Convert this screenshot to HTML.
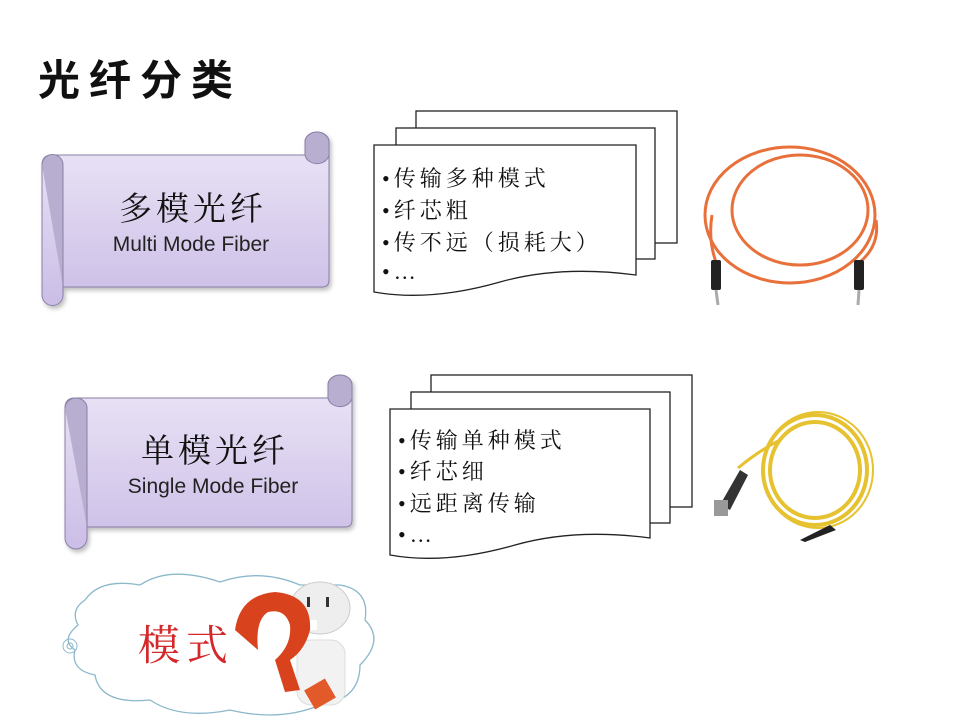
<!DOCTYPE html>
<html><head><meta charset="utf-8"><style>
html,body{margin:0;padding:0;background:#fff;}
svg{display:block}
.cj{font-family:"Liberation Serif","Noto Serif CJK SC",serif;}
</style></head><body>
<svg width="960" height="720" viewBox="0 0 960 720" xmlns="http://www.w3.org/2000/svg">
<defs>
<linearGradient id="pg" x1="0" y1="0" x2="0" y2="1">
<stop offset="0" stop-color="#ece6f7"/><stop offset="1" stop-color="#cbbde6"/>
</linearGradient>
<filter id="sh" x="-10%" y="-10%" width="130%" height="130%"><feDropShadow dx="2" dy="3" stdDeviation="2" flood-color="#000" flood-opacity="0.25"/></filter>
</defs>
<text x="38" y="95" font-size="42" font-weight="bold" letter-spacing="9" font-family="Liberation Sans,'Noto Sans CJK SC',sans-serif" fill="#111">光纤分类</text>

<!-- scroll 1 -->
<g filter="url(#sh)" stroke="#8a80a8" stroke-width="1">
<path d="M305 155 L305 142 A12 10 0 0 1 329 142 L329 280 Q329 287 322 287 L63 287 L63 295 A10 10 0 0 1 42 295 L42 165 Q42 155 52 155 Z" fill="url(#pg)"/>
<path d="M42 165 A10 10 0 0 1 63 165 L63 287" fill="#b8aed0"/>
<path d="M305 155 A12 10 0 0 0 329 152 L329 142 A12 10 0 0 0 305 142 Z" fill="#b8aed0"/>
</g>
<text x="193" y="220" text-anchor="middle" font-size="33" letter-spacing="4" class="cj" fill="#111">多模光纤</text>
<text x="191" y="251" text-anchor="middle" font-size="21" font-family="Liberation Sans,sans-serif" fill="#222">Multi Mode Fiber</text>

<!-- scroll 2 -->
<g filter="url(#sh)" stroke="#8a80a8" stroke-width="1">
<path d="M328 398 L328 385 A12 10 0 0 1 352 385 L352 520 Q352 527 345 527 L87 527 L87 538 A10 10 0 0 1 65 538 L65 408 Q65 398 75 398 Z" fill="url(#pg)"/>
<path d="M65 408 A11 10 0 0 1 87 408 L87 527" fill="#b8aed0"/>
<path d="M328 398 A12 10 0 0 0 352 395 L352 385 A12 10 0 0 0 328 385 Z" fill="#b8aed0"/>
</g>
<text x="215" y="462" text-anchor="middle" font-size="33" letter-spacing="4" class="cj" fill="#111">单模光纤</text>
<text x="213" y="493" text-anchor="middle" font-size="21" font-family="Liberation Sans,sans-serif" fill="#222">Single Mode Fiber</text>

<!-- doc 1 -->
<g fill="#fff" stroke="#222" stroke-width="1.3">
<rect x="416" y="111" width="261" height="132"/>
<rect x="396" y="128" width="259" height="131"/>
<path d="M374 145 L636 145 L636 275 Q560 265 500 282 Q430 302 374 292 Z"/>
</g>
<g class="cj" font-size="22" fill="#111" letter-spacing="4">
<text x="382" y="186">•传输多种模式</text>
<text x="382" y="218">•纤芯粗</text>
<text x="382" y="250">•传不远（损耗大）</text>
<text x="382" y="279">•…</text>
</g>

<!-- doc 2 -->
<g fill="#fff" stroke="#222" stroke-width="1.3">
<rect x="431" y="375" width="261" height="132"/>
<rect x="411" y="392" width="259" height="131"/>
<path d="M390 409 L650 409 L650 538 Q575 528 515 545 Q445 565 390 555 Z"/>
</g>
<g class="cj" font-size="22" fill="#111" letter-spacing="4">
<text x="398" y="448">•传输单种模式</text>
<text x="398" y="479">•纤芯细</text>
<text x="398" y="511">•远距离传输</text>
<text x="398" y="542">•…</text>
</g>

<!-- orange fiber -->
<g fill="none" stroke="#e8703a" stroke-width="3">
<ellipse cx="790" cy="215" rx="85" ry="68"/>
<ellipse cx="800" cy="210" rx="68" ry="55"/>
<path d="M712 215 Q708 240 716 262"/>
<path d="M876 220 Q880 245 860 262"/>
</g>
<g fill="#222"><rect x="711" y="260" width="10" height="30" rx="2"/><rect x="854" y="260" width="10" height="30" rx="2"/></g>
<g stroke="#aaa" stroke-width="3"><line x1="716" y1="290" x2="718" y2="305"/><line x1="859" y1="290" x2="858" y2="305"/></g>

<!-- yellow fiber -->
<g fill="none" stroke="#e6c230" stroke-width="4">
<ellipse cx="815" cy="470" rx="52" ry="55"/>
<ellipse cx="815" cy="470" rx="45" ry="48"/>
<ellipse cx="818" cy="470" rx="55" ry="58" stroke-width="2"/>
</g>
<path d="M738 468 Q760 450 780 440" stroke="#e6c230" stroke-width="3" fill="none"/>
<path d="M720 505 L740 470 L748 475 L730 510 Z" fill="#333"/>
<rect x="714" y="500" width="14" height="16" fill="#999"/>
<path d="M800 540 L830 525 L836 530 L805 542 Z" fill="#222"/>

<!-- cloud -->
<path d="M85 600 Q100 578 140 585 Q170 565 220 582 Q260 568 300 585 L340 585 Q370 590 365 620 Q385 640 360 665 Q360 700 320 705 Q280 722 230 710 Q180 720 150 700 Q100 705 95 675 Q70 670 75 650 Q60 640 78 625 Q70 610 85 600 Z" fill="#fff" stroke="#8cb8cc" stroke-width="1.3"/>
<circle cx="70" cy="646" r="7" fill="none" stroke="#8cb8cc"/>
<circle cx="70" cy="646" r="3" fill="none" stroke="#8cb8cc"/>
<text x="138" y="660" font-size="42" letter-spacing="6" class="cj" fill="#d4282a">模式</text>
<!-- character -->
<ellipse cx="320" cy="608" rx="30" ry="26" fill="#eee" stroke="#ccc"/>
<rect x="305" y="620" width="12" height="10" fill="#fff"/>
<rect x="297" y="640" width="48" height="65" rx="14" fill="#f2f2f2" stroke="#ddd"/>
<rect x="307" y="597" width="3" height="10" fill="#333"/><rect x="326" y="597" width="3" height="10" fill="#333"/>
<path d="M235 630 Q240 595 275 592 Q312 595 310 630 Q305 650 290 660 L300 690 L285 692 L275 660 Q292 645 290 625 Q285 608 268 612 Q255 620 258 650 Z" fill="#d8421c"/>
<rect x="308" y="683" width="24" height="22" fill="#e25a2a" transform="rotate(-30 320 694)"/>
</svg>
</body></html>
